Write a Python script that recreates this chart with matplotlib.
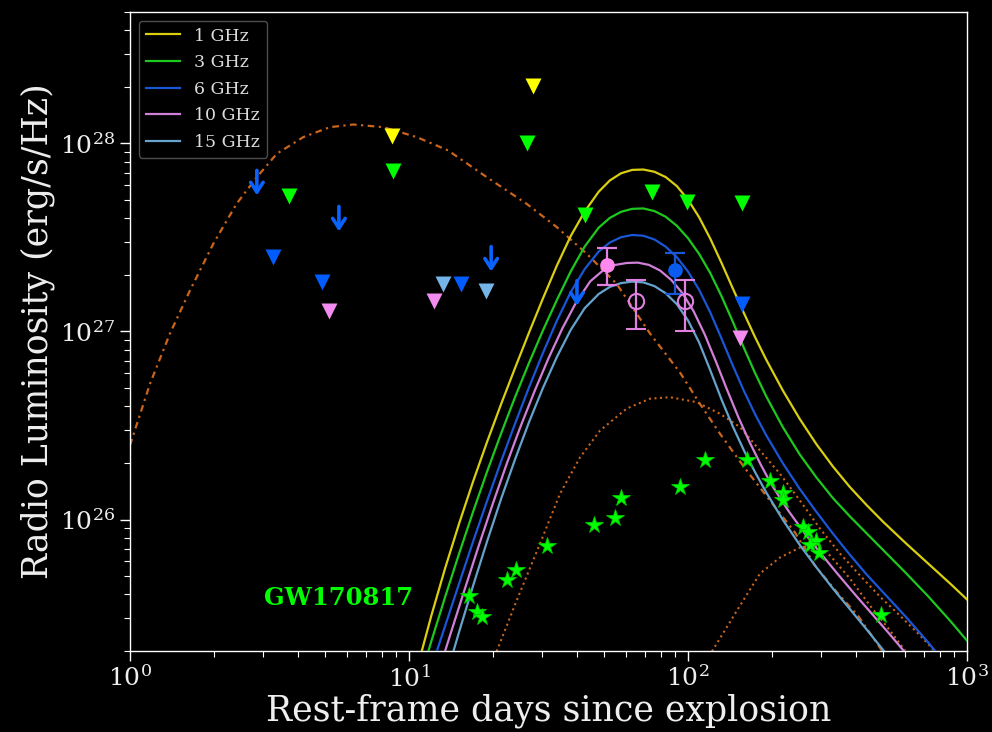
import matplotlib
matplotlib.use('Agg')
import matplotlib.pyplot as plt
import numpy as np

plt.rcParams['font.family'] = ['DejaVu Serif']
plt.rcParams['mathtext.fontset'] = 'dejavuserif'

# ---------------- model light curves ----------------
# stored as log10(days) and log10(luminosity in erg/s/Hz)
logt_1 = [1.03, 1.08, 1.13, 1.18, 1.23, 1.28, 1.33, 1.38, 1.43, 1.48, 1.53, 1.58, 1.63, 1.68,
          1.72, 1.76, 1.80, 1.84, 1.88, 1.92, 1.96, 2.00, 2.04, 2.08, 2.12, 2.16, 2.20, 2.24,
          2.28, 2.34, 2.40, 2.46, 2.52, 2.58, 2.64, 2.70, 2.78, 2.86, 2.94, 3.02]
logL_1 = [25.213, 25.488, 25.743, 25.980, 26.203, 26.413, 26.613, 26.805, 26.993, 27.175,
          27.350, 27.508, 27.638, 27.743, 27.803, 27.841, 27.859, 27.861, 27.849, 27.821,
          27.773, 27.701, 27.607, 27.493, 27.365, 27.231, 27.099, 26.971, 26.851, 26.686,
          26.536, 26.401, 26.281, 26.173, 26.077, 25.987, 25.875, 25.767, 25.659, 25.547]

logt_3 = [1.03, 1.08, 1.13, 1.18, 1.23, 1.28, 1.33, 1.38, 1.43, 1.48, 1.53, 1.58, 1.63, 1.68,
          1.72, 1.76, 1.80, 1.84, 1.88, 1.92, 1.96, 2.00, 2.04, 2.08, 2.12, 2.16, 2.20, 2.24,
          2.28, 2.34, 2.40, 2.46, 2.52, 2.58, 2.64, 2.70, 2.78, 2.86, 2.94, 3.02]
logL_3 = [25.102, 25.352, 25.590, 25.820, 26.042, 26.255, 26.457, 26.650, 26.832, 27.005,
          27.167, 27.320, 27.452, 27.552, 27.604, 27.636, 27.652, 27.654, 27.640, 27.610,
          27.562, 27.496, 27.412, 27.310, 27.188, 27.054, 26.914, 26.780, 26.656, 26.491,
          26.347, 26.224, 26.113, 26.017, 25.927, 25.837, 25.717, 25.593, 25.461, 25.321]

logt_6 = [1.08, 1.13, 1.18, 1.23, 1.28, 1.33, 1.38, 1.43, 1.48, 1.53, 1.58, 1.63, 1.68, 1.72,
          1.76, 1.80, 1.84, 1.88, 1.92, 1.96, 2.00, 2.04, 2.08, 2.12, 2.16, 2.20, 2.24, 2.28,
          2.34, 2.40, 2.46, 2.52, 2.58, 2.64, 2.70, 2.78, 2.86, 2.94]
logL_6 = [25.211, 25.436, 25.661, 25.884, 26.099, 26.309, 26.509, 26.702, 26.885, 27.057,
          27.210, 27.332, 27.425, 27.473, 27.501, 27.513, 27.509, 27.489, 27.451, 27.395,
          27.319, 27.221, 27.101, 26.963, 26.821, 26.685, 26.561, 26.449, 26.299, 26.164,
          26.041, 25.924, 25.813, 25.708, 25.612, 25.484, 25.348, 25.204]

logt_10 = [1.10, 1.15, 1.20, 1.25, 1.30, 1.35, 1.40, 1.45, 1.50, 1.55, 1.60, 1.65, 1.70, 1.74,
           1.78, 1.82, 1.86, 1.90, 1.94, 1.98, 2.02, 2.06, 2.10, 2.14, 2.18, 2.22, 2.26, 2.30,
           2.36, 2.42, 2.48, 2.54, 2.60, 2.66, 2.72, 2.80]
logL_10 = [25.162, 25.397, 25.630, 25.860, 26.082, 26.295, 26.495, 26.682, 26.857, 27.017,
           27.157, 27.267, 27.330, 27.354, 27.364, 27.366, 27.354, 27.324, 27.274, 27.204,
           27.108, 26.984, 26.840, 26.690, 26.546, 26.414, 26.294, 26.184, 26.046, 25.923,
           25.812, 25.704, 25.599, 25.497, 25.395, 25.255]

logt_15 = [1.13, 1.18, 1.23, 1.28, 1.33, 1.38, 1.43, 1.48, 1.53, 1.58, 1.63, 1.68, 1.72, 1.76,
           1.80, 1.84, 1.88, 1.92, 1.96, 2.00, 2.04, 2.08, 2.12, 2.16, 2.20, 2.24, 2.28, 2.34,
           2.40, 2.46, 2.52, 2.58, 2.64, 2.72]
logL_15 = [25.151, 25.404, 25.649, 25.884, 26.109, 26.319, 26.517, 26.699, 26.864, 27.009,
           27.124, 27.199, 27.237, 27.257, 27.265, 27.261, 27.241, 27.203, 27.145, 27.059,
           26.941, 26.793, 26.639, 26.497, 26.369, 26.253, 26.145, 25.998, 25.866, 25.746,
           25.632, 25.524, 25.416, 25.268]

freq_labels = ['1 GHz', '3 GHz', '6 GHz', '10 GHz', '15 GHz']

# ---------------- GW170817 model components (orange) ----------------
t_gw_a = [1.0, 1.18, 1.39, 1.64, 1.99, 2.41, 2.85, 3.36, 4.18, 5.21, 6.32, 8.09, 10.66, 13.80,
          18.98, 26.42, 33.84, 43.35, 55.53, 73.1, 93.6, 110.4, 130.2, 160.1, 196.8, 241.8,
          285.2, 344.8, 406.8, 495.8]
L_gw_a = [2.48e26, 5.27e26, 9.72e26, 1.65e27, 2.93e27, 4.77e27, 6.62e27, 8.81e27, 1.08e28,
          1.22e28, 1.26e28, 1.22e28, 1.08e28, 9.18e27, 6.62e27, 4.77e27, 3.59e27, 2.59e27,
          1.79e27, 9.75e26, 6.05e26, 4.12e26, 2.86e26, 1.87e26, 1.26e26, 8.53e25, 5.69e25,
          4.04e25, 3.08e25, 2.01e25]

t_gw_b = [20.62, 24.32, 29.48, 34.77, 41.02, 48.37, 60.3, 73.1, 86.2, 107.4, 130.2, 153.6, 181.1,
          213.7, 252.0, 297.2, 350.6, 413.6, 487.5, 575.3, 678.5, 767.7]
L_gw_b = [1.99e25, 3.71e25, 7.43e25, 1.37e26, 2.14e26, 2.97e26, 3.89e26, 4.39e26, 4.47e26,
          4.21e26, 3.65e26, 3.10e26, 2.33e26, 1.75e26, 1.26e26, 8.95e25, 6.59e25, 5.04e25,
          3.89e25, 3.08e25, 2.42e25, 1.99e25]

t_gw_c = [121.9, 149.8, 181.1, 213.7, 252.0, 285.2, 322.8, 380.7, 449.0, 529.7, 599.6]
L_gw_c = [1.99e25, 3.28e25, 5.16e25, 6.28e25, 7.10e25, 7.28e25, 6.44e25, 4.85e25, 3.49e25,
          2.57e25, 2.01e25]

# ---------------- upper limits (triangles) ----------------
t_ul_1 = [8.67, 27.8]
L_ul_1 = [1.10e28, 2.01e28]
t_ul_3 = [3.71, 8.78, 26.48, 42.7, 74.1, 98.9, 155.8]
L_ul_3 = [5.22e27, 7.13e27, 1.0e28, 4.14e27, 5.51e27, 4.87e27, 4.81e27]
t_ul_6 = [3.26, 4.87, 15.32, 155.8]
L_ul_6 = [2.48e27, 1.83e27, 1.78e27, 1.40e27]
t_ul_15 = [13.27, 18.88]
L_ul_15 = [1.79e27, 1.65e27]
t_ul_10 = [5.18, 12.32, 153.6]
L_ul_10 = [1.28e27, 1.45e27, 9.26e26]

# upper limits drawn as arrows (value at arrow tip)
t_arrow = [2.85, 5.61, 19.7, 40.0]
L_arrow = [5.29e27, 3.40e27, 2.08e27, 1.37e27]

# ---------------- detections ----------------
t_det_10 = [51.4]
L_det_10 = [2.26e27]
L_det_10_hi = [2.77e27]
L_det_10_lo = [1.76e27]

t_det_6 = [89.8]
L_det_6 = [2.11e27]
L_det_6_hi = [2.61e27]
L_det_6_lo = [1.59e27]

t_det_open = [65.1, 97.6]
L_det_open = [1.45e27, 1.45e27]
L_det_open_hi = [1.88e27, 1.87e27]
L_det_open_lo = [1.03e27, 1.01e27]

# ---------------- GW170817 observations ----------------
t_gw = [16.45, 17.49, 18.31, 22.4, 24.17, 31.2, 46.2, 54.6, 57.5, 93.4, 115.0, 163.0, 196.8,
        218.4, 218.4, 259.0, 268.5, 287.6, 273.6, 295.6, 490.6]
L_gw = [3.94e25, 3.21e25, 3.05e25, 4.78e25, 5.42e25, 7.21e25, 9.37e25, 1.02e26, 1.30e26,
        1.49e26, 2.06e26, 2.06e26, 1.61e26, 1.38e26, 1.27e26, 9.18e25, 8.56e25, 7.67e25,
        7.36e25, 6.62e25, 3.11e25]

# ---------------- figure ----------------
fig = plt.figure(figsize=(9.92, 7.32), dpi=100, facecolor='black')
ax = fig.add_axes([0.131, 0.1107, 0.8438, 0.873])
ax.set_facecolor('black')
ax.set_xscale('log')
ax.set_yscale('log')

line_colors = ['#d9cf10', '#1ec81e', '#1a56d6', '#d080d8', '#66a3cc']
curves = [(logt_1, logL_1), (logt_3, logL_3), (logt_6, logL_6),
          (logt_10, logL_10), (logt_15, logL_15)]
for (lt, lL), c, lab in zip(curves, line_colors, freq_labels):
    ax.plot(10.0 ** np.array(lt), 10.0 ** np.array(lL), color=c, lw=1.6, label=lab, zorder=3)

orange = '#c9651c'
ax.plot(t_gw_a, L_gw_a, color=orange, lw=1.6, dashes=(3, 2, 1, 2), zorder=2)
ax.plot(t_gw_b, L_gw_b, color=orange, lw=1.5, ls=':', zorder=2)
ax.plot(t_gw_c, L_gw_c, color=orange, lw=1.5, ls=':', zorder=2)

tri_ms = 12
ax.plot(t_ul_1, L_ul_1, 'v', color='#ffff00', ms=tri_ms, mec='none', zorder=5)
ax.plot(t_ul_3, L_ul_3, 'v', color='#00ff00', ms=tri_ms, mec='none', zorder=5)
ax.plot(t_ul_6, L_ul_6, 'v', color='#005cff', ms=tri_ms, mec='none', zorder=5)
ax.plot(t_ul_15, L_ul_15, 'v', color='#74b4e6', ms=tri_ms, mec='none', zorder=5)
ax.plot(t_ul_10, L_ul_10, 'v', color='#f28cf0', ms=tri_ms, mec='none', zorder=5)

for x, y in zip(t_arrow, L_arrow):
    ax.annotate('', xy=(x, y), xycoords='data', xytext=(0, 18), textcoords='offset points',
                arrowprops=dict(arrowstyle='->,head_length=0.7,head_width=0.45',
                                color='#0a62ff', lw=2.6, shrinkA=0, shrinkB=0),
                zorder=5)

pink_err = '#e080e0'
ax.errorbar(t_det_10, L_det_10,
            yerr=[[a - b for a, b in zip(L_det_10, L_det_10_lo)],
                  [b - a for a, b in zip(L_det_10, L_det_10_hi)]],
            fmt='o', color='#ff88ee', ecolor=pink_err, ms=9.5, elinewidth=1.6,
            capsize=7, capthick=1.6, zorder=6)
ax.errorbar(t_det_6, L_det_6,
            yerr=[[a - b for a, b in zip(L_det_6, L_det_6_lo)],
                  [b - a for a, b in zip(L_det_6, L_det_6_hi)]],
            fmt='o', color='#0a5cf0', ecolor='#1a56d6', ms=9.5, elinewidth=1.6,
            capsize=7, capthick=1.6, zorder=6)
ax.errorbar(t_det_open, L_det_open,
            yerr=[[a - b for a, b in zip(L_det_open, L_det_open_lo)],
                  [b - a for a, b in zip(L_det_open, L_det_open_hi)]],
            fmt='o', mfc='none', mec=pink_err, ecolor=pink_err, ms=11, mew=1.5,
            elinewidth=1.6, capsize=7, capthick=1.6, zorder=6)

ax.plot(t_gw, L_gw, '*', color='#00ff00', mec='#00c800', mew=0.6, ms=13, zorder=7)

ax.text(0.2497, 0.083, 'GW170817', transform=ax.transAxes, color='#00ff00',
        fontsize=17.5, fontweight='bold', ha='center', va='center')

ax.set_xlim(1, 1000)
ax.set_ylim(2e25, 5e28)

for sp in ax.spines.values():
    sp.set_color('white')
    sp.set_linewidth(1.0)
ax.tick_params(which='both', colors='white', direction='out', labelcolor='#eeeeee')
ax.tick_params(which='major', length=7, width=1.0, labelsize=18)
ax.tick_params(which='minor', length=4, width=0.8)

ax.set_xlabel('Rest-frame days since explosion', color='#eeeeee', fontsize=25, labelpad=1)
ax.set_ylabel('Radio Luminosity (erg/s/Hz)', color='#eeeeee', fontsize=25, labelpad=4)

leg = ax.legend(loc='upper left', fontsize=12.5, frameon=True, facecolor='black',
                edgecolor='#555555', framealpha=0.9, handlelength=2.0, labelspacing=0.55)
for txt in leg.get_texts():
    txt.set_color('#dddddd')

fig.savefig('out.png', dpi=100, facecolor='black')
